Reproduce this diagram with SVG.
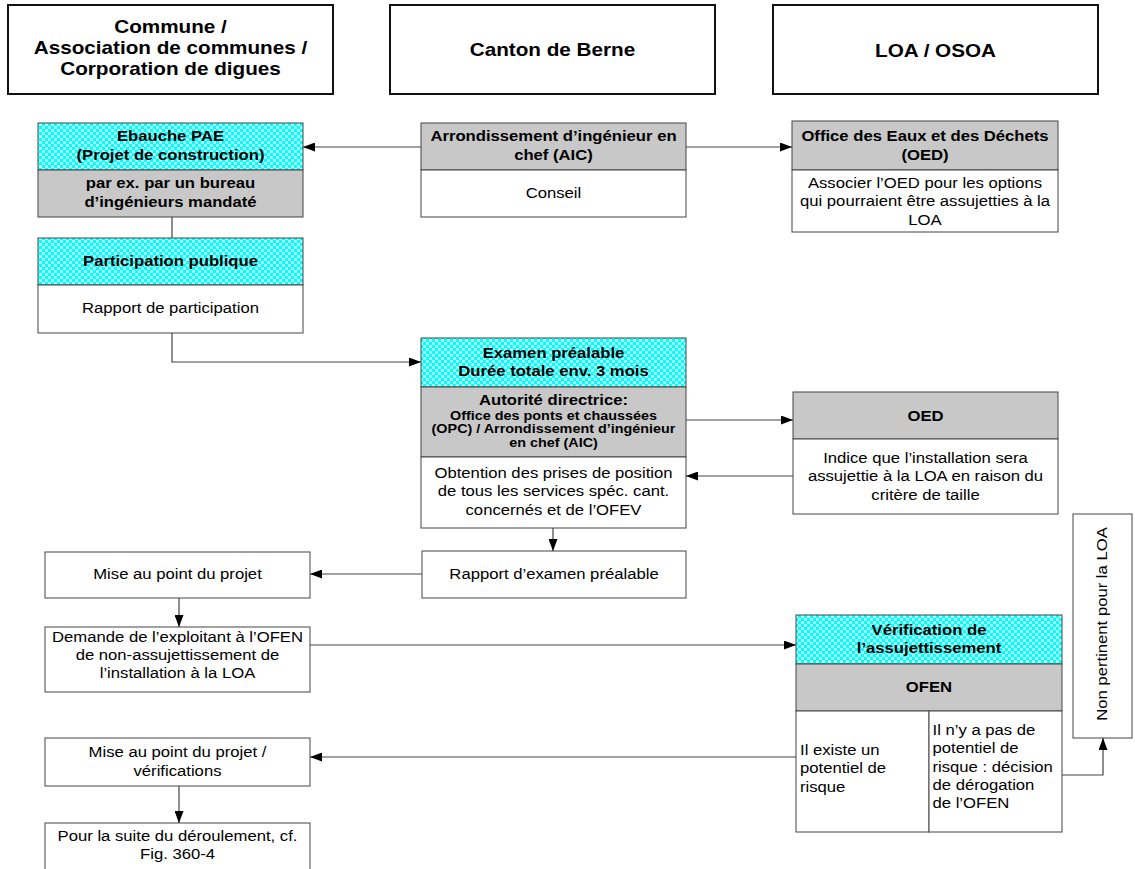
<svg xmlns="http://www.w3.org/2000/svg" width="1135" height="869" viewBox="0 0 1135 869">
<defs>
<pattern id="chk" width="6" height="6" patternUnits="userSpaceOnUse">
<rect width="6" height="6" fill="#00FFFF"/>
<rect width="3" height="3" fill="#A8FFFF"/>
<rect x="3" y="3" width="3" height="3" fill="#A8FFFF"/>
</pattern>
<marker id="ah" viewBox="0 0 12 9" refX="12" refY="4.5" markerWidth="12" markerHeight="9" markerUnits="userSpaceOnUse" orient="auto">
<path d="M0,0 L12,4.5 L0,9 Z" fill="#000"/>
</marker>
<style>
text{font-family:"Liberation Sans",Arial,sans-serif;fill:#000;text-anchor:middle}
.h{font-size:18px;font-weight:bold}
.b{font-size:14.5px;font-weight:bold}
.r{font-size:14.5px}
.s{font-size:12.5px;font-weight:bold}
.l{text-anchor:start}
.hb{fill:#fff;stroke:#111;stroke-width:2}
.box{stroke:#444;stroke-width:1}
.w{fill:#fff}
.g{fill:#C8C8C8}
.c{fill:url(#chk)}
.cn{fill:none;stroke:#444;stroke-width:1.2}
.cn-a{fill:none;stroke:#444;stroke-width:1.2;marker-end:url(#ah)}
</style>
</defs>
<rect width="1135" height="869" fill="#fff"/>

<g id="hdr-commune">
<rect class="hb" x="8" y="5" width="325" height="89"/>
<text class="h" transform="matrix(1.15 0 0 1 170.5 0)"><tspan x="0" y="33">Commune /</tspan><tspan x="0" y="54.5">Association de communes /</tspan><tspan x="0" y="75.5">Corporation de digues</tspan></text>
</g>
<g id="hdr-canton">
<rect class="hb" x="390" y="5" width="325" height="89"/>
<text class="h" transform="matrix(1.15 0 0 1 552.5 0)" x="0" y="56">Canton de Berne</text>
</g>
<g id="hdr-loa">
<rect class="hb" x="773" y="5" width="325" height="89"/>
<text class="h" transform="matrix(1.15 0 0 1 935.5 0)" x="0" y="57">LOA / OSOA</text>
</g>

<g id="ebauche">
<rect class="box c" x="38" y="123" width="265" height="47"/>
<rect class="box g" x="38" y="170" width="265" height="47"/>
<text class="b" transform="matrix(1.15 0 0 1 170.5 0)"><tspan x="0" y="141.5">Ebauche PAE</tspan><tspan x="0" y="160">(Projet de construction)</tspan></text>
<text class="b" transform="matrix(1.15 0 0 1 170.5 0)"><tspan x="0" y="188.5">par ex. par un bureau</tspan><tspan x="0" y="207">d’ingénieurs mandaté</tspan></text>
</g>

<g id="participation">
<rect class="box c" x="38" y="238" width="265" height="47"/>
<rect class="box w" x="38" y="285" width="265" height="48"/>
<text class="b" transform="matrix(1.15 0 0 1 170.5 0)" x="0" y="266.5">Participation publique</text>
<text class="r" transform="matrix(1.15 0 0 1 170.5 0)" x="0" y="313">Rapport de participation</text>
</g>

<g id="aic">
<rect class="box g" x="421" y="123" width="265" height="47"/>
<rect class="box w" x="421" y="170" width="265" height="47"/>
<text class="b" transform="matrix(1.15 0 0 1 553.5 0)"><tspan x="0" y="141.5">Arrondissement d’ingénieur en</tspan><tspan x="0" y="160">chef (AIC)</tspan></text>
<text class="r" transform="matrix(1.15 0 0 1 553.5 0)" x="0" y="198">Conseil</text>
</g>

<g id="oed1">
<rect class="box g" x="792" y="121" width="266" height="49"/>
<rect class="box w" x="792" y="170" width="266" height="62"/>
<text class="b" transform="matrix(1.15 0 0 1 925 0)"><tspan x="0" y="141.5">Office des Eaux et des Déchets</tspan><tspan x="0" y="160">(OED)</tspan></text>
<text class="r" transform="matrix(1.15 0 0 1 925 0)"><tspan x="0" y="188">Associer l’OED pour les options</tspan><tspan x="0" y="206.5">qui pourraient être assujetties à la</tspan><tspan x="0" y="225">LOA</tspan></text>
</g>

<g id="examen">
<rect class="box c" x="421" y="338" width="265" height="49"/>
<rect class="box g" x="421" y="387" width="265" height="70"/>
<rect class="box w" x="421" y="457" width="265" height="71"/>
<text class="b" transform="matrix(1.15 0 0 1 553.5 0)"><tspan x="0" y="358">Examen préalable</tspan><tspan x="0" y="376.5">Durée totale env. 3 mois</tspan><tspan x="0" y="405">Autorité directrice:</tspan></text>
<text class="s" transform="matrix(1.15 0 0 1 553.5 0)"><tspan x="0" y="420">Office des ponts et chaussées</tspan><tspan x="0" y="433.3">(OPC) / Arrondissement d’ingénieur</tspan><tspan x="0" y="446.6">en chef (AIC)</tspan></text>
<text class="r" transform="matrix(1.15 0 0 1 553.5 0)"><tspan x="0" y="478">Obtention des prises de position</tspan><tspan x="0" y="496.5">de tous les services spéc. cant.</tspan><tspan x="0" y="515">concernés et de l’OFEV</tspan></text>
</g>

<g id="oed2">
<rect class="box g" x="793" y="392" width="265" height="47"/>
<rect class="box w" x="793" y="439" width="265" height="75"/>
<text class="b" transform="matrix(1.15 0 0 1 925.5 0)" x="0" y="421.5">OED</text>
<text class="r" transform="matrix(1.15 0 0 1 925.5 0)"><tspan x="0" y="463">Indice que l’installation sera</tspan><tspan x="0" y="481.5">assujettie à la LOA en raison du</tspan><tspan x="0" y="500">critère de taille</tspan></text>
</g>

<g id="rapport-examen">
<rect class="box w" x="422" y="551" width="264" height="47"/>
<text class="r" transform="matrix(1.15 0 0 1 554 0)" x="0" y="579.3">Rapport d’examen préalable</text>
</g>

<g id="mise-au-point">
<rect class="box w" x="45" y="552" width="265" height="46"/>
<text class="r" transform="matrix(1.15 0 0 1 177.5 0)" x="0" y="579.3">Mise au point du projet</text>
</g>

<g id="demande">
<rect class="box w" x="45" y="627" width="265" height="65"/>
<text class="r" transform="matrix(1.15 0 0 1 177.5 0)"><tspan x="0" y="641.7">Demande de l’exploitant à l’OFEN</tspan><tspan x="0" y="660">de non-assujettissement de</tspan><tspan x="0" y="678.3">l’installation à la LOA</tspan></text>
</g>

<g id="verification">
<rect class="box c" x="796" y="615" width="266" height="49"/>
<rect class="box g" x="796" y="664" width="266" height="47"/>
<rect class="box w" x="796" y="711" width="133" height="121"/>
<rect class="box w" x="929" y="711" width="133" height="121"/>
<text class="b" transform="matrix(1.15 0 0 1 929 0)"><tspan x="0" y="635">Vérification de</tspan><tspan x="0" y="653.3">l’assujettissement</tspan></text>
<text class="b" transform="matrix(1.15 0 0 1 929 0)" x="0" y="691.7">OFEN</text>
<text class="r l" transform="matrix(1.15 0 0 1 800 0)"><tspan x="0" y="755">Il existe un</tspan><tspan x="0" y="773.3">potentiel de</tspan><tspan x="0" y="791.7">risque</tspan></text>
<text class="r l" transform="matrix(1.15 0 0 1 932.5 0)"><tspan x="0" y="735">Il n’y a pas de</tspan><tspan x="0" y="753.3">potentiel de</tspan><tspan x="0" y="771.7">risque : décision</tspan><tspan x="0" y="790">de dérogation</tspan><tspan x="0" y="808.3">de l’OFEN</tspan></text>
</g>

<g id="non-pertinent">
<rect class="box w" x="1073" y="514" width="59" height="224"/>
<text class="r" transform="matrix(0 -1.15 1 0 1102 624)" x="0" y="5">Non pertinent pour la LOA</text>
</g>

<g id="mise-au-point-2">
<rect class="box w" x="45" y="738" width="265" height="48"/>
<text class="r" transform="matrix(1.15 0 0 1 177.5 0)"><tspan x="0" y="757.3">Mise au point du projet /</tspan><tspan x="0" y="775.7">vérifications</tspan></text>
</g>

<g id="suite">
<rect class="box w" x="45" y="823" width="265" height="50"/>
<text class="r" transform="matrix(1.15 0 0 1 177.5 0)"><tspan x="0" y="840.7">Pour la suite du déroulement, cf.</tspan><tspan x="0" y="859">Fig. 360-4</tspan></text>
</g>

<g id="connectors">
<path class="cn-a" d="M421,147 H303"/>
<path class="cn-a" d="M686,147 H792"/>
<path class="cn" d="M172,217 V238"/>
<path class="cn-a" d="M172,333 V362 H421"/>
<path class="cn-a" d="M686,420 H793"/>
<path class="cn-a" d="M793,476 H686"/>
<path class="cn-a" d="M553,528 V551"/>
<path class="cn-a" d="M422,574 H310"/>
<path class="cn-a" d="M179,598 V627"/>
<path class="cn-a" d="M310,645 H796"/>
<path class="cn-a" d="M796,757 H310"/>
<path class="cn-a" d="M179,786 V823"/>
<path class="cn-a" d="M1062,775 H1103 V738"/>
</g>
</svg>
